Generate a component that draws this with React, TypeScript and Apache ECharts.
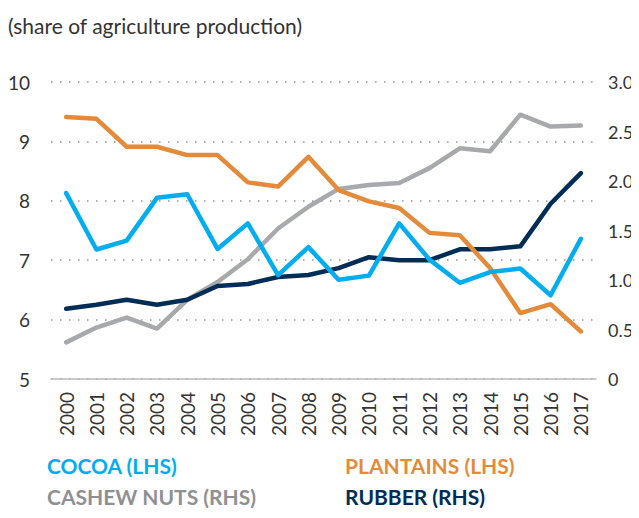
import React, { useEffect, useRef } from "react";
import * as echarts from "echarts";

const years = ["2000","2001","2002","2003","2004","2005","2006","2007","2008","2009","2010","2011","2012","2013","2014","2015","2016","2017"];
const cocoa = [8.13, 7.18, 7.33, 8.05, 8.11, 7.19, 7.62, 6.75, 7.22, 6.67, 6.74, 7.62, 7.01, 6.62, 6.80, 6.86, 6.41, 7.36];
const plantains = [9.41, 9.38, 8.91, 8.91, 8.77, 8.77, 8.31, 8.24, 8.74, 8.18, 7.99, 7.88, 7.46, 7.42, 6.87, 6.11, 6.26, 5.80];
const cashew = [0.37, 0.52, 0.62, 0.51, 0.80, 0.98, 1.21, 1.52, 1.74, 1.92, 1.96, 1.98, 2.13, 2.33, 2.30, 2.67, 2.55, 2.56];
const rubber = [0.71, 0.75, 0.80, 0.75, 0.80, 0.94, 0.96, 1.03, 1.05, 1.12, 1.23, 1.20, 1.20, 1.31, 1.31, 1.34, 1.77, 2.08];

const FONT = "Lato, 'Liberation Sans Narrow', sans-serif";
const C_COCOA = "#00AEEF";
const C_PLANT = "#E38B3B";
const C_CASHEW = "#A8A9AD";
const C_RUBBER = "#002D56";

export default function App() {
  const ref = useRef<HTMLDivElement>(null);
  useEffect(() => {
    if (!ref.current) return;
    const chart = echarts.init(ref.current, null, { renderer: "svg" });
    const line = (name: string, data: number[], color: string, yAxisIndex: number) => ({
      name,
      type: "line",
      data,
      yAxisIndex,
      symbol: "none",
      lineStyle: { color, width: 4.5, cap: "round", join: "round" },
      itemStyle: { color },
    });
    chart.setOption({
      animation: false,
      grid: { left: 51, right: 43, top: 82, bottom: 139 },
      xAxis: {
        type: "category",
        data: years,
        boundaryGap: true,
        axisLine: { lineStyle: { color: "#bbbbbb", width: 1.5 } },
        axisTick: { inside: true, length: 5, lineStyle: { color: "#bbbbbb" } },
        axisLabel: { rotate: 90, color: "#333", fontFamily: FONT, fontSize: 19, margin: 13, interval: 0 },
      },
      yAxis: [
        {
          type: "value",
          min: 5,
          max: 10,
          interval: 1,
          position: "left",
          axisLine: { show: false },
          axisTick: { show: false },
          axisLabel: { color: "#333", fontFamily: FONT, fontSize: 19, margin: 21 },
          splitLine: { lineStyle: { color: "#b0b0b0", width: 2, type: [1.5, 7.5] } },
        },
        {
          type: "value",
          min: 0,
          max: 3,
          interval: 0.5,
          position: "right",
          axisLine: { show: false },
          axisTick: { show: false },
          splitLine: { show: false },
          axisLabel: {
            color: "#333",
            fontFamily: FONT,
            fontSize: 18,
            margin: 12,
            formatter: (v: number) => (v === 0 ? "0" : v.toFixed(1)),
          },
        },
      ],
      series: [
        line("CASHEW NUTS (RHS)", cashew, C_CASHEW, 1),
        line("RUBBER (RHS)", rubber, C_RUBBER, 1),
        line("PLANTAINS (LHS)", plantains, C_PLANT, 0),
        line("COCOA (LHS)", cocoa, C_COCOA, 0),
      ],
      graphic: [
        { type: "text", left: 8, top: 15, style: { text: "(share of agriculture production)", fill: "#333", font: `21px ${FONT}` } },
        { type: "text", left: 47, top: 455, style: { text: "COCOA (LHS)", fill: C_COCOA, font: `bold 21px ${FONT}` } },
        { type: "text", left: 345, top: 455, style: { text: "PLANTAINS (LHS)", fill: C_PLANT, font: `bold 21px ${FONT}` } },
        { type: "text", left: 47, top: 486, style: { text: "CASHEW NUTS (RHS)", fill: "#8F9094", font: `bold 21px ${FONT}` } },
        { type: "text", left: 345, top: 486, style: { text: "RUBBER (RHS)", fill: C_RUBBER, font: `bold 21px ${FONT}` } },
      ],
    });
    return () => chart.dispose();
  }, []);
  return <div ref={ref} style={{ width: 639, height: 518, margin: -8 }} />;
}
